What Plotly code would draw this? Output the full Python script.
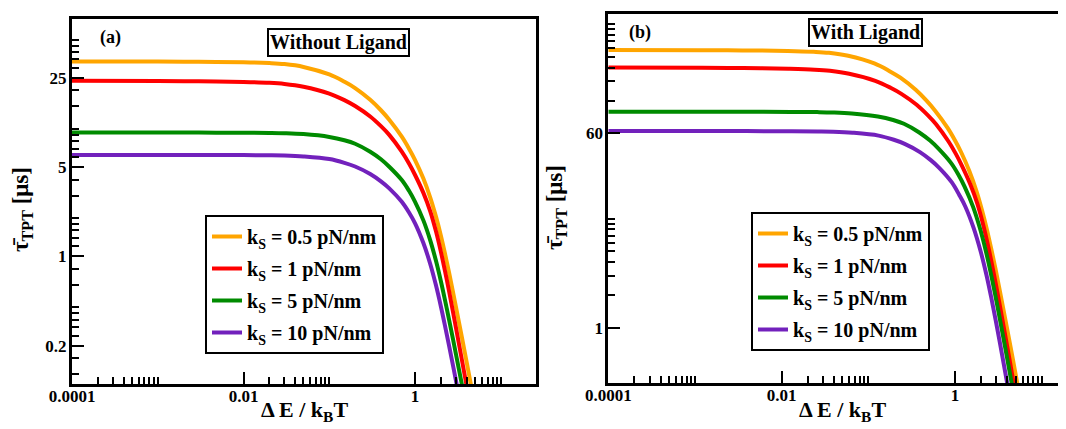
import math
import plotly.graph_objects as go

# ---------------- data ----------------
series_names = ["k<sub>S</sub> = 0.5 pN/nm", "k<sub>S</sub> = 1 pN/nm",
                "k<sub>S</sub> = 5 pN/nm", "k<sub>S</sub> = 10 pN/nm"]
series_colors = ["#FFA500", "#FF0000", "#008B00", "#7221BC"]

# Panel (a): without ligand
a_x_05 = [0.0001, 0.001, 0.003, 0.01, 0.02, 0.03, 0.05, 0.1, 0.15, 0.2, 0.3, 0.4, 0.5, 0.7, 0.85, 1,
          1.25, 1.5, 1.75, 2, 2.25, 2.5, 3, 3.5, 4, 4.5, 5]
a_y_05 = [33.8, 33.7, 33.6, 33.3, 32.8, 32.2, 30.6, 26.7, 23.4, 20.9, 16.9, 14.0, 11.8, 8.69, 7.0, 5.70,
          4.08, 2.91, 2.06, 1.455, 1.028, 0.738, 0.401, 0.236, 0.148, 0.097, 0.066]
a_x_1 = [0.0001, 0.001, 0.003, 0.01, 0.02, 0.03, 0.05, 0.1, 0.15, 0.2, 0.3, 0.4, 0.5, 0.7, 0.85, 1,
         1.25, 1.5, 1.75, 2, 2.25, 2.5, 3, 3.5, 4, 4.5]
a_y_1 = [23.8, 23.7, 23.6, 23.3, 22.95, 22.5, 21.4, 18.9, 16.8, 15.1, 12.5, 10.5, 8.97, 6.62, 5.35, 4.35,
         3.15, 2.27, 1.58, 1.087, 0.75, 0.527, 0.276, 0.157, 0.096, 0.062]
a_x_5 = [0.0001, 0.001, 0.003, 0.01, 0.02, 0.03, 0.05, 0.1, 0.15, 0.2, 0.3, 0.4, 0.5, 0.7, 0.85, 1,
         1.25, 1.5, 1.75, 2, 2.25, 2.5, 3, 3.5, 4]
a_y_5 = [9.35, 9.35, 9.35, 9.33, 9.3, 9.25, 9.1, 8.65, 8.15, 7.65, 6.62, 5.78, 5.05, 3.97, 3.27, 2.68,
         1.918, 1.344, 0.928, 0.639, 0.444, 0.315, 0.171, 0.1005, 0.063]
a_x_10 = [0.0001, 0.001, 0.003, 0.01, 0.02, 0.03, 0.05, 0.1, 0.15, 0.2, 0.3, 0.4, 0.5, 0.7, 0.85, 1,
          1.25, 1.5, 1.75, 2, 2.25, 2.5, 3, 3.5]
a_y_10 = [6.24, 6.24, 6.24, 6.23, 6.21, 6.18, 6.08, 5.8, 5.42, 5.07, 4.43, 3.88, 3.42, 2.68, 2.21, 1.82,
          1.274, 0.877, 0.596, 0.405, 0.279, 0.197, 0.106, 0.062]

# Panel (b): with ligand
b_x_05 = [0.0001, 0.00117, 0.00351, 0.0117, 0.0234, 0.0351, 0.0585, 0.117, 0.1755, 0.234, 0.351, 0.468,
          0.585, 0.819, 0.9945, 1.17, 1.4625, 1.755, 2.0475, 2.34, 2.6325, 2.925, 3.51, 4.095, 4.68, 5.265, 5.85]
b_y_05 = [347, 345.8, 344.5, 340.8, 334.6, 327.3, 307.4, 261.6, 222.6, 194.0, 150.3, 119.7,
          97.4, 67.4, 52.0, 40.6, 27.1, 18.05, 11.87, 7.80, 5.13, 3.46, 1.655, 0.872, 0.497, 0.299, 0.1876]
b_x_1 = [0.0001, 0.0012, 0.0036, 0.012, 0.024, 0.036, 0.06, 0.12, 0.18, 0.24, 0.36, 0.48,
         0.6, 0.84, 1.02, 1.2, 1.5, 1.8, 2.1, 2.4, 2.7, 3.0, 3.6, 4.2, 4.8, 5.4]
b_y_1 = [240, 238.8, 237.5, 233.9, 229.6, 224.0, 210.6, 181.4, 157.0, 138.1, 109.8, 88.7,
         73.2, 50.6, 39.0, 30.35, 20.5, 13.76, 8.89, 5.64, 3.60, 2.35, 1.067, 0.538, 0.296, 0.174]
b_x_5 = [0.0001, 0.00129, 0.00386, 0.0129, 0.0257, 0.0386, 0.0643, 0.1286, 0.193, 0.257, 0.386, 0.514,
         0.643, 0.9, 1.093, 1.286, 1.608, 1.929, 2.25, 2.572, 2.894, 3.215, 3.858, 4.501, 5.144]
b_y_5 = [94.6, 94.6, 94.6, 94.35, 93.96, 93.33, 91.4, 85.7, 79.6, 73.5, 61.2, 51.6,
         43.5, 32.1, 25.14, 19.56, 12.84, 8.19, 5.14, 3.21, 2.029, 1.316, 0.608, 0.311, 0.1727]
b_x_10 = [0.0001, 0.00131, 0.00393, 0.0131, 0.0262, 0.0393, 0.0655, 0.131, 0.1965, 0.262, 0.393, 0.524,
          0.655, 0.917, 1.1135, 1.31, 1.6375, 1.965, 2.2925, 2.62, 2.9475, 3.275, 3.93, 4.585]
b_y_10 = [63, 63, 63, 62.87, 62.61, 62.22, 60.9, 57.3, 52.5, 48.2, 40.5, 34.2,
          29.1, 21.4, 16.5, 12.9, 8.17, 5.05, 3.08, 1.87, 1.158, 0.741, 0.334, 0.167]

# tick values / labels
x_major = [0.0001, 0.01, 1]
x_major_text = ["0.0001", "0.01", "1"]
a_y_major = [0.2, 1, 5, 25]
a_y_major_text = ["0.2", "1", "5", "25"]
a_y_minor_base = [0.04, 0.2, 1, 5, 25]
b_y_major = [1, 60]
b_y_major_text = ["1", "60"]
b_y_minor_base = [1 / 60, 1, 60]
minor_mult = [2, 3, 4, 5, 6, 7, 8, 9, 10]

# ---------------- figure ----------------
# the page body has an 8 px margin; the figure is sized so it ends at the window edge
OFF = 8
W, H = 1066 - OFF, 429 - OFF
FONT = "Liberation Serif, Times New Roman, serif"

def px(x):
    return (x - OFF) / W

def py(y):
    return 1 - (y - OFF) / H

def minor_vals(bases):
    return [b * m for b in bases for m in minor_mult]

fig = go.Figure()

panel_a = [(a_x_05, a_y_05), (a_x_1, a_y_1), (a_x_5, a_y_5), (a_x_10, a_y_10)]
panel_b = [(b_x_05, b_y_05), (b_x_1, b_y_1), (b_x_5, b_y_5), (b_x_10, b_y_10)]

for i, (xs, ys) in enumerate(panel_a):
    fig.add_trace(go.Scatter(x=xs, y=ys, mode="lines", name=series_names[i],
                             line=dict(color=series_colors[i], width=4, shape="spline", smoothing=1.0),
                             xaxis="x", yaxis="y", legend="legend", legendgroup=f"a{i}"))
for i, (xs, ys) in enumerate(panel_b):
    fig.add_trace(go.Scatter(x=xs, y=ys, mode="lines", name=series_names[i],
                             line=dict(color=series_colors[i], width=4, shape="spline", smoothing=1.0),
                             xaxis="x2", yaxis="y2", legend="legend2", legendgroup=f"b{i}"))

def axis(**kw):
    d = dict(type="log", showline=True, linecolor="black", linewidth=3,
             ticks="inside", ticklen=12, tickwidth=2, tickcolor="black",
             showgrid=False, zeroline=False, automargin=False,
             tickfont=dict(family=FONT, size=17, color="black", weight="bold"))
    d.update(kw)
    return d

def minor(vals):
    return dict(tickmode="array", tickvals=vals, ticks="inside", ticklen=7,
                tickwidth=2, tickcolor="black", showgrid=False)

legend_style = dict(xanchor="left", yanchor="top", bgcolor="white",
                    bordercolor="black", borderwidth=2,
                    font=dict(family=FONT, size=20, color="black", weight="bold"),
                    tracegroupgap=3)

fig.update_layout(
    width=W, height=H, margin=dict(l=0, r=0, t=0, b=0, autoexpand=False),
    paper_bgcolor="white", plot_bgcolor="white",
    xaxis=axis(domain=[px(72), px(536)], range=[-4, 1.41], anchor="y", mirror=True,
               tickmode="array", tickvals=x_major, ticktext=x_major_text,
               ticklabelstandoff=-5, minor=minor(minor_vals(x_major))),
    yaxis=axis(domain=[py(384), py(19)], range=[-1, 1.8615], anchor="x", mirror=True,
               tickmode="array", tickvals=a_y_major, ticktext=a_y_major_text,
               ticklabelstandoff=-1, minor=minor(minor_vals(a_y_minor_base))),
    xaxis2=axis(domain=[px(608.3), 1.0], range=[-4, 1.279], anchor="y2", mirror=True,
                tickmode="array", tickvals=x_major, ticktext=x_major_text,
                ticklabelstandoff=-5, minor=minor(minor_vals(x_major))),
    yaxis2=axis(domain=[py(383), py(14)], range=[math.log10(0.314), math.log10(741)],
                anchor="x2", mirror=False,
                tickmode="array", tickvals=b_y_major, ticktext=b_y_major_text,
                ticklabelstandoff=-1, minor=minor(minor_vals(b_y_minor_base))),
    legend=dict(x=px(205), y=py(215), **legend_style),
    legend2=dict(x=px(751), y=py(212), **legend_style),
)

def ann(text, x, y, size, **kw):
    d = dict(text=text, x=px(x), y=py(y), xref="paper", yref="paper",
             showarrow=False, xanchor="center", yanchor="middle",
             font=dict(family=FONT, size=size, color="black", weight="bold"))
    d.update(kw)
    fig.add_annotation(**d)

xt = "Δ E / k<sub>B</sub>T"
yt = "τ\u0304<sub>TPT</sub> [μs]"
ann(xt, 304, 411, 22)
ann(xt, 842, 411, 22)
ann(yt, 22, 210, 23, textangle=-90)
ann(yt, 556, 208, 23, textangle=-90)
ann("(a)", 110, 37, 18)
ann("(b)", 640, 33, 18)
ann("Without Ligand", 338, 42, 20, bordercolor="black", borderwidth=2, borderpad=1, bgcolor="white")
ann("With Ligand", 865, 33, 20, bordercolor="black", borderwidth=2, borderpad=1, bgcolor="white")

fig.write_html("out.html")
